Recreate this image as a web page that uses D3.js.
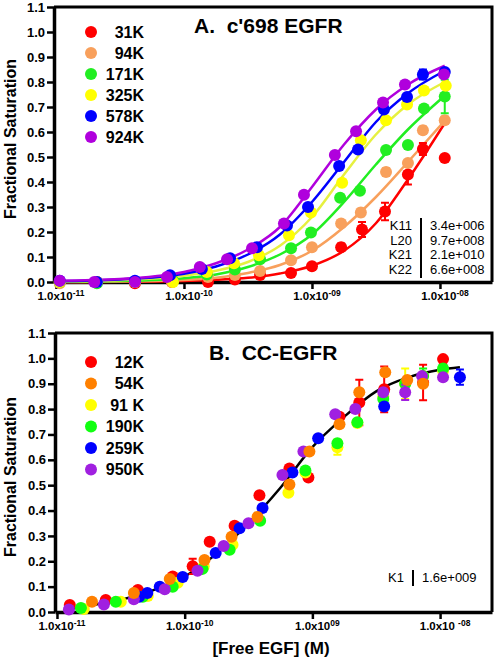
<!DOCTYPE html>
<html><head><meta charset="utf-8">
<script src="https://cdn.jsdelivr.net/npm/d3@7"></script>
<style>
body{margin:0;background:#fff}
svg{display:block}
text{font-family:"Liberation Sans",Arial,sans-serif}
</style>
</head><body>
<svg id="c" width="496" height="660"></svg>
<script>
// ---------- DATA : panel A (c'698 EGFR) ----------
const topLabels = ["31K","94K","171K","325K","578K","924K"];
// [free EGF (M), fractional saturation, error]
const top31K = [[1.07e-11,0.0,0],[2.09e-11,0.0,0],[4.14e-11,-0.005,0],[8.06e-11,0.0,0],[1.54e-10,0.0,0],[2.50e-10,0.01,0],[3.93e-10,0.028,0],[6.86e-10,0.036,0],[1.0e-9,0.063,0],[1.69e-9,0.139,0.015],[2.46e-9,0.21,0.03],[3.72e-9,0.282,0.035],[5.62e-9,0.43,0.04],[7.36e-9,0.532,0.024],[1.09e-8,0.496,0]];
const top94K = [[1.07e-11,-0.005,0],[2.09e-11,0.0,0],[4.14e-11,0.0,0],[8.06e-11,0.0,0],[1.54e-10,0.02,0],[2.50e-10,0.028,0],[3.93e-10,0.044,0],[6.86e-10,0.087,0],[1.0e-9,0.139,0],[1.69e-9,0.234,0],[2.41e-9,0.278,0.015],[3.79e-9,0.44,0.015],[5.62e-9,0.476,0],[7.36e-9,0.607,0.015],[1.09e-8,0.647,0.015]];
const top171K = [[1.07e-11,0.0,0],[2.09e-11,-0.005,0],[4.14e-11,0.0,0],[8.21e-11,0.005,0],[1.51e-10,0.03,0],[2.50e-10,0.05,0],[3.93e-10,0.091,0],[6.86e-10,0.135,0],[9.82e-10,0.198,0],[1.66e-9,0.337,0],[2.37e-9,0.365,0],[3.79e-9,0.528,0],[5.62e-9,0.548,0],[7.50e-9,0.694,0],[1.09e-8,0.742,0.067]];
const top325K = [[1.07e-11,0.0,0],[2.09e-11,0.0,0],[4.14e-11,0.0,0],[8.21e-11,0.0,0],[1.51e-10,0.04,0],[2.46e-10,0.075,0],[3.85e-10,0.107,0],[6.61e-10,0.187,0],[9.82e-10,0.278,0],[1.72e-9,0.397,0],[2.41e-9,0.567,0],[3.79e-9,0.647,0],[5.53e-9,0.71,0],[7.50e-9,0.766,0],[1.11e-8,0.785,0]];
const top578K = [[1.07e-11,0.005,0],[2.09e-11,0.0,0],[4.14e-11,0.005,0],[7.78e-11,0.027,0],[1.38e-10,0.052,0],[2.29e-10,0.095,0],[3.72e-10,0.139,0],[6.38e-10,0.226,0],[9.31e-10,0.30,0],[1.63e-9,0.464,0],[2.29e-9,0.53,0],[3.65e-9,0.69,0],[5.53e-9,0.74,0],[7.36e-9,0.83,0.02],[1.09e-8,0.84,0]];
const top924K = [[1.07e-11,0.005,0],[1.99e-11,0.0,0],[4.14e-11,0.0,0],[7.36e-11,0.02,0],[1.33e-10,0.06,0],[2.17e-10,0.091,0],[3.40e-10,0.135,0],[6.04e-10,0.234,0],[8.66e-10,0.349,0],[1.51e-9,0.508,0],[2.21e-9,0.603,0],[3.59e-9,0.718,0],[5.33e-9,0.79,0],[1.075e-8,0.83,0]];
// fitted curves
const topCurveX = [1e-11,3.16e-11,1e-10,1.78e-10,3.16e-10,5.62e-10,1e-9,1.78e-9,3.16e-9,5.62e-9,1.09e-8];
const topCurve31K  = [0.0,0.001,0.004,0.009,0.017,0.034,0.065,0.125,0.235,0.41,0.635];
const topCurve94K  = [0.0,0.002,0.008,0.017,0.036,0.068,0.125,0.22,0.34,0.48,0.645];
const topCurve171K = [0.001,0.004,0.015,0.03,0.06,0.11,0.19,0.32,0.47,0.61,0.745];
const topCurve325K = [0.002,0.007,0.025,0.045,0.08,0.145,0.26,0.43,0.59,0.71,0.80];
const topCurve578K = [0.003,0.01,0.033,0.062,0.11,0.19,0.32,0.48,0.64,0.755,0.845];
const topCurve924K = [0.005,0.012,0.04,0.075,0.13,0.22,0.38,0.55,0.69,0.79,0.865];
const topParamNames = ["K11","L20","K21","K22"];
const topParamValues = ["3.4e+006","9.7e+008","2.1e+010","6.6e+008"];

// ---------- DATA : panel B (CC-EGFR) ----------
const botLabels = ["12K","54K","91 K","190K","259K","950K"];
const bot12K = [[1.26e-11,0.028,0],[2.41e-11,0.047,0],[4.30e-11,0.087,0],[8.06e-11,0.14,0],[1.155e-10,0.18,0.03],[1.57e-10,0.277,0],[2.46e-10,0.34,0],[3.85e-10,0.46,0],[6.61e-10,0.566,0],[9.31e-10,0.53,0],[1.63e-9,0.77,0],[2.33e-9,0.826,0.09],[3.65e-9,0.878,0.09],[7.36e-9,0.905,0.07],[1.055e-8,0.997,0]];
const bot54K = [[1.88e-11,0.04,0],[4.00e-11,0.075,0],[7.64e-11,0.13,0],[1.43e-10,0.205,0],[2.33e-10,0.297,0],[3.72e-10,0.375,0],[6.61e-10,0.503,0],[9.48e-10,0.633,0],[1.63e-9,0.74,0],[2.33e-9,0.866,0],[3.72e-9,0.945,0],[5.53e-9,0.915,0],[7.36e-9,0.90,0]];
const bot91K = [[1.62e-11,0.012,0],[3.16e-11,0.04,0],[5.14e-11,0.063,0],[8.82e-11,0.115,0],[1.41e-10,0.18,0],[2.37e-10,0.265,0],[6.49e-10,0.47,0],[8.82e-10,0.55,0],[1.57e-9,0.65,0.03],[2.25e-9,0.745,0],[3.59e-9,0.85,0],[5.33e-9,0.90,0.06],[7.36e-9,0.93,0],[1.055e-8,0.95,0]];
const bot190K = [[1.54e-11,0.016,0],[2.89e-11,0.04,0],[4.70e-11,0.06,0],[8.06e-11,0.1,0],[1.38e-10,0.17,0],[2.25e-10,0.245,0],[3.9e-10,0.36,0],[8.82e-10,0.558,0],[1.57e-9,0.665,0],[2.25e-9,0.748,0],[3.59e-9,0.84,0],[5.33e-9,0.90,0],[7.36e-9,0.93,0.03],[1.055e-8,0.96,0]];
const bot259K = [[4.4e-11,0.06,0],[5.1e-11,0.075,0],[6.38e-11,0.1,0],[9.65e-11,0.138,0],[1.75e-10,0.233,0],[2.69e-10,0.33,0],[4.07e-10,0.41,0],[6.98e-10,0.55,0],[1.11e-9,0.685,0],[3.65e-9,0.81,0],[1.43e-8,0.926,0.03]];
const bot950K = [[1.24e-11,0.01,0],[2.33e-11,0.03,0],[4.00e-11,0.05,0],[6.98e-11,0.09,0],[1.26e-10,0.163,0],[2.02e-10,0.26,0],[3.16e-10,0.35,0],[5.83e-10,0.54,0],[8.51e-10,0.633,0],[1.51e-9,0.78,0],[2.17e-9,0.80,0],[3.59e-9,0.866,0],[5.33e-9,0.866,0.03],[7.22e-9,0.93,0],[1.055e-8,0.926,0]];
const botCurveX = [1.2e-11,1.78e-11,3.16e-11,5.62e-11,1e-10,1.78e-10,3.16e-10,5.62e-10,1e-9,1.78e-9,3.16e-9,5.62e-9,1e-8,1.43e-8];
const botCurveY = [0.01,0.025,0.048,0.085,0.14,0.23,0.35,0.49,0.65,0.77,0.87,0.925,0.955,0.965];
const botParamNames = ["K1"];
const botParamValues = ["1.6e+009"];

// ---------- tick labels ----------
const xTickValues = [1e-11,1e-10,1e-9,1e-8];
const topXTickBase = ["1.0x10","1.0x10","1.0x10","1.0x10"];
const topXTickSup  = ["-11","-10","-09","-08"];
const botXTickBase = ["1.0x10","1.0x10","1.0x10","1.0x10\u00a0"];
const botXTickSup  = ["-11","-10","09","-08"];
const yTickValues = [0,0.1,0.2,0.3,0.4,0.5,0.6,0.7,0.8,0.9,1.0,1.1];

// ---------- STYLES ----------
const topColors = ["#ff0000","#f8a05c","#22ee22","#ffff00","#0000ff","#b000dd"];
const topLineColors = ["#ff0000","#f8a05c","#22ee22","#e6f040","#0000ff","#b000dd"];
const botColors = ["#ff0000","#ff8000","#ffff00","#11ff11","#0000ff","#a020e0"];

const svg = d3.select("#c");

function panel(cfg) {
  const g = svg.append("g");
  const x = d3.scaleLog().domain([9.65e-12, 2.55e-8]).range([cfg.left, cfg.right]);
  const y = d3.scaleLinear().domain([0, 1.1]).range([cfg.bottom, cfg.top]);

  // frame (top & right)
  g.append("path")
    .attr("d", `M${cfg.left},${cfg.top}H${cfg.right}V${cfg.bottom}`)
    .attr("fill","none").attr("stroke","#000").attr("stroke-width",3);

  // axes
  const ya = g.append("g").attr("transform",`translate(${cfg.left},0)`)
    .call(d3.axisLeft(y).tickValues(yTickValues).tickFormat(d3.format(".1f")).tickSize(7).tickPadding(2).tickSizeOuter(0));
  ya.select(".domain").attr("stroke-width",3.5);
  ya.selectAll(".tick line").attr("stroke-width",2.5);
  ya.selectAll(".tick text").attr("font-size",13).attr("font-weight","bold").attr("fill","#000")
    .style("font-family",'"Liberation Sans",Arial,sans-serif');

  const xa = g.append("g").attr("transform",`translate(0,${cfg.bottom})`)
    .call(d3.axisBottom(x).tickValues(xTickValues).tickFormat("").tickSize(7).tickSizeOuter(0));
  xa.select(".domain").attr("stroke-width",3.5);
  xa.selectAll(".tick line").attr("stroke-width",2.5);

  xTickValues.forEach((v,i) => {
    const t = g.append("text").attr("x", x(v) + 5).attr("y", cfg.bottom + cfg.xLabelDy)
      .attr("text-anchor","middle").attr("font-weight","bold").attr("font-size",11.5)
      .attr("xml:space","preserve").style("white-space","pre");
    t.append("tspan").text(cfg.tickBase[i]);
    t.append("tspan").attr("font-size",8.5).attr("dy",-4).text(cfg.tickSup[i]);
  });

  // curves
  const line = d3.line().x(d => x(d[0])).y(d => y(d[1])).curve(d3.curveMonotoneX);
  cfg.curves.forEach((c,i) => {
    g.append("path").datum(c.x.map((xv,j) => [xv, c.y[j]]))
      .attr("d", line).attr("fill","none").attr("stroke", c.color).attr("stroke-width",2.5);
  });

  // points with error bars
  cfg.order.forEach(si => {
    const s = cfg.series[si], col = cfg.colors[si];
    const sg = g.append("g");
    s.filter(d => d[2] > 0).forEach(d => {
      const px = x(d[0]), y1 = y(d[1]-d[2]), y2 = y(d[1]+d[2]);
      sg.append("path").attr("d",`M${px},${y1}V${y2}M${px-4},${y1}H${px+4}M${px-4},${y2}H${px+4}`)
        .attr("stroke", col).attr("stroke-width",2).attr("fill","none");
    });
    sg.selectAll("circle").data(s).join("circle")
      .attr("cx", d => x(d[0])).attr("cy", d => y(d[1])).attr("r", 6).attr("fill", col);
  });

  // legend
  cfg.labels.forEach((lab,i) => {
    const ly = cfg.legendY + i*cfg.legendStep;
    g.append("circle").attr("cx",91).attr("cy",ly).attr("r",6).attr("fill",cfg.colors[i]);
    g.append("text").attr("x",144).attr("y",ly+5.5).attr("text-anchor","end")
      .attr("font-weight","bold").attr("font-size",16).text(lab);
  });

  // title
  g.append("text").attr("x",cfg.titleX).attr("y",cfg.titleY).attr("font-weight","bold").attr("font-size",21)
    .attr("xml:space","preserve").style("white-space","pre").text(cfg.title);

  // parameter table
  cfg.paramNames.forEach((n,i) => {
    const by = cfg.paramY + i*14.7;
    g.append("text").attr("x",cfg.paramLineX-9).attr("y",by).attr("text-anchor","end").attr("font-size",13).text(n);
    g.append("text").attr("x",cfg.paramLineX+9).attr("y",by).attr("font-size",13).text(cfg.paramValues[i]);
  });
  g.append("line").attr("x1",cfg.paramLineX).attr("x2",cfg.paramLineX)
    .attr("y1",cfg.paramY-12).attr("y2",cfg.paramY + (cfg.paramNames.length-1)*14.7 + 4)
    .attr("stroke","#000").attr("stroke-width",2);

  // y-axis title
  g.append("text").attr("transform",`translate(16,${cfg.yTitleY}) rotate(-90)`)
    .attr("text-anchor","middle").attr("font-weight","bold").attr("font-size",16).text("Fractional Saturation");
}

panel({
  left:54, right:492, top:7, bottom:282, xLabelDy:18,
  tickBase:topXTickBase, tickSup:topXTickSup,
  series:[top31K,top94K,top171K,top325K,top578K,top924K],
  colors:topColors, order:[0,1,2,3,4,5],
  curves:[topCurve31K,topCurve94K,topCurve171K,topCurve325K,topCurve578K,topCurve924K]
    .map((c,i)=>({x:topCurveX, y:c, color:topLineColors[i]})),
  labels:topLabels, legendY:32, legendStep:21,
  title:"A.  c'698 EGFR", titleX:194, titleY:33,
  paramNames:topParamNames, paramValues:topParamValues, paramY:230, paramLineX:421,
  yTitleY:139
});

panel({
  left:55, right:492, top:333, bottom:612, xLabelDy:18,
  tickBase:botXTickBase, tickSup:botXTickSup,
  series:[bot12K,bot54K,bot91K,bot190K,bot259K,bot950K],
  colors:botColors, order:[0,2,3,4,5,1],
  curves:[{x:botCurveX, y:botCurveY, color:"#000"}],
  labels:botLabels, legendY:362, legendStep:21.5,
  title:"B.  CC-EGFR", titleX:209, titleY:360,
  paramNames:botParamNames, paramValues:botParamValues, paramY:582, paramLineX:413,
  yTitleY:477
});

// x-axis title
svg.append("text").attr("x",271).attr("y",654).attr("text-anchor","middle")
  .attr("font-weight","bold").attr("font-size",17).text("[Free EGF] (M)");
</script>
</body></html>
